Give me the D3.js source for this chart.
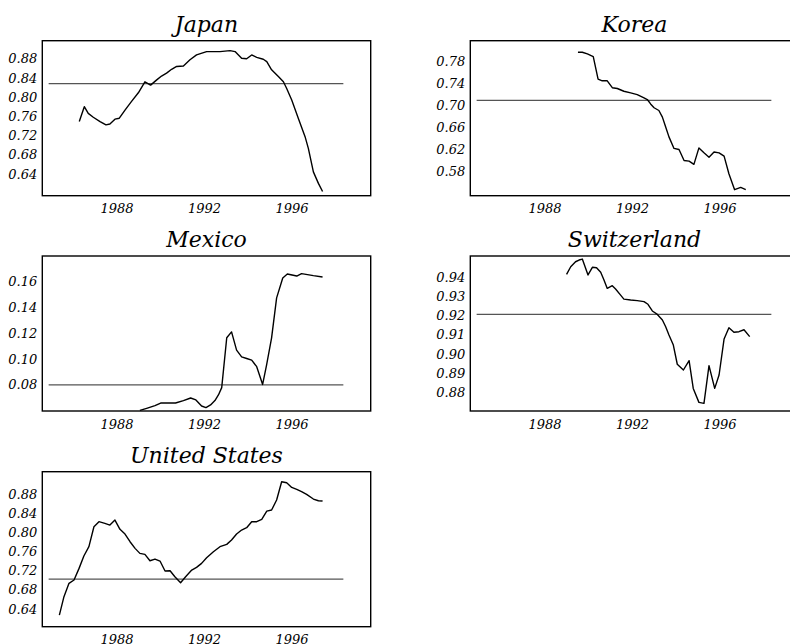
<!DOCTYPE html>
<html>
<head>
<meta charset="utf-8">
<script src="https://cdn.jsdelivr.net/npm/d3@7"></script>
<style>
  html, body { margin: 0; padding: 0; background: #fff; }
  svg { display: block; }
</style>
</head>
<body>
<svg id="chart" width="790" height="644"></svg>
<script>
// Quarterly series, [year, value]
const japanSeries = [
  [1986.30,0.748],[1986.53,0.779],[1986.71,0.765],[1986.94,0.757],[1987.25,0.748],[1987.52,0.741],
  [1987.70,0.743],[1987.93,0.753],[1988.13,0.755],[1988.39,0.772],[1988.69,0.790],[1989.00,0.808],
  [1989.30,0.831],[1989.56,0.824],[1989.84,0.835],[1990.06,0.843],[1990.29,0.849],[1990.52,0.857],
  [1990.75,0.863],[1991.06,0.864],[1991.36,0.877],[1991.66,0.887],[1992.12,0.894],[1992.73,0.894],
  [1993.19,0.896],[1993.42,0.894],[1993.72,0.880],[1993.95,0.879],[1994.18,0.887],[1994.41,0.882],
  [1994.71,0.878],[1994.87,0.873],[1995.09,0.856],[1995.40,0.842],[1995.63,0.831],[1995.78,0.817],
  [1996.01,0.793],[1996.31,0.755],[1996.62,0.7165],[1996.77,0.692],[1997.00,0.643],[1997.23,0.619],
  [1997.42,0.602]
];
const koreaSeries = [
  [1989.53,0.796],[1989.73,0.796],[1989.96,0.793],[1990.23,0.788],[1990.45,0.747],[1990.64,0.744],
  [1990.87,0.744],[1991.10,0.7315],[1991.33,0.730],[1991.63,0.725],[1991.94,0.722],[1992.24,0.719],
  [1992.55,0.713],[1992.70,0.710],[1992.85,0.702],[1993.01,0.695],[1993.23,0.690],[1993.39,0.678],
  [1993.54,0.660],[1993.69,0.642],[1993.92,0.621],[1994.15,0.619],[1994.38,0.599],[1994.61,0.598],
  [1994.83,0.592],[1995.06,0.622],[1995.29,0.613],[1995.52,0.605],[1995.75,0.6145],[1995.98,0.613],
  [1996.21,0.607],[1996.43,0.575],[1996.69,0.546],[1996.97,0.550],[1997.20,0.546]
];
const mexicoSeries = [
  [1989.07,0.0595],[1989.38,0.0611],[1989.76,0.0632],[1990.02,0.0652],[1990.29,0.0652],[1990.70,0.0652],
  [1991.06,0.0671],[1991.39,0.0691],[1991.63,0.0676],[1991.89,0.0629],[1992.09,0.0616],[1992.30,0.0637],
  [1992.50,0.0671],[1992.66,0.0715],[1992.81,0.0772],[1993.04,0.1160],[1993.26,0.1206],[1993.49,0.1064],
  [1993.72,0.1012],[1993.95,0.0999],[1994.18,0.0986],[1994.41,0.0935],[1994.68,0.0797],[1994.86,0.0948],
  [1995.09,0.1160],[1995.32,0.1471],[1995.60,0.1626],[1995.81,0.1657],[1996.24,0.1641],[1996.46,0.1660],
  [1997.00,0.1644],[1997.42,0.1634]
];
const switzerlandSeries = [
  [1989.01,0.9412],[1989.20,0.9452],[1989.42,0.9478],[1989.58,0.9487],[1989.73,0.9492],[1989.99,0.9409],
  [1990.19,0.9449],[1990.38,0.9447],[1990.57,0.9423],[1990.72,0.9383],[1990.87,0.9339],[1991.10,0.9353],
  [1991.25,0.9336],[1991.48,0.9304],[1991.63,0.9283],[1991.94,0.9278],[1992.24,0.9275],[1992.55,0.9270],
  [1992.73,0.9256],[1992.93,0.9221],[1993.16,0.9203],[1993.39,0.9174],[1993.54,0.9139],[1993.69,0.9096],
  [1993.89,0.9043],[1994.07,0.8943],[1994.35,0.8913],[1994.61,0.8962],[1994.80,0.8817],[1995.06,0.8744],
  [1995.29,0.8739],[1995.52,0.8936],[1995.78,0.8817],[1995.98,0.8887],[1996.21,0.9075],[1996.43,0.9134],
  [1996.66,0.9110],[1996.89,0.9113],[1997.12,0.9123],[1997.38,0.9087]
];
const unitedStatesSeries = [
  [1985.39,0.626],[1985.60,0.6644],[1985.83,0.6922],[1986.06,0.6992],[1986.29,0.7235],[1986.51,0.7493],
  [1986.74,0.7688],[1986.97,0.8105],[1987.20,0.8210],[1987.47,0.8175],[1987.70,0.8140],[1987.93,0.8244],
  [1988.16,0.8050],[1988.39,0.7952],[1988.62,0.7792],[1988.85,0.7653],[1989.07,0.7548],[1989.30,0.7528],
  [1989.53,0.7395],[1989.76,0.7430],[1989.99,0.7388],[1990.22,0.7180],[1990.45,0.7186],[1990.67,0.7061],
  [1990.93,0.6936],[1991.16,0.7061],[1991.44,0.7200],[1991.66,0.7256],[1991.89,0.7340],[1992.12,0.7458],
  [1992.43,0.7583],[1992.73,0.7688],[1993.04,0.7736],[1993.26,0.7827],[1993.49,0.7952],[1993.72,0.8036],
  [1993.95,0.8084],[1994.18,0.8210],[1994.41,0.8210],[1994.64,0.8258],[1994.87,0.8432],[1995.09,0.8453],
  [1995.32,0.8662],[1995.55,0.9045],[1995.78,0.9024],[1996.01,0.8926],[1996.24,0.8885],[1996.46,0.8836],
  [1996.69,0.8780],[1997.00,0.8683],[1997.23,0.8648],[1997.42,0.8641]
];

const countries = ["Japan", "Korea", "Mexico", "Switzerland", "United States"];
const seriesList = [japanSeries, koreaSeries, mexicoSeries, switzerlandSeries, unitedStatesSeries];
// Long-run average drawn as a horizontal reference line
const meanValues = [0.827, 0.7085, 0.0793, 0.9203, 0.7012];
const yLimits = [[0.5933, 0.9167], [0.535, 0.817], [0.059, 0.1797], [0.8699, 0.9508], [0.6017, 0.9254]];
const yTickValues = [
  [0.64, 0.68, 0.72, 0.76, 0.80, 0.84, 0.88],
  [0.58, 0.62, 0.66, 0.70, 0.74, 0.78],
  [0.08, 0.10, 0.12, 0.14, 0.16],
  [0.88, 0.89, 0.90, 0.91, 0.92, 0.93, 0.94],
  [0.64, 0.68, 0.72, 0.76, 0.80, 0.84, 0.88]
];
const xTickValues = [1988, 1992, 1996];
const xLimits = [1984.61, 1999.62];
const meanSpan = [1984.9, 1998.37];

// Layout
const panelW = 328.4, panelH = 155;
const colX = [42.3, 470.3];
const rowY = [40.7, 256, 471.7];
const labelFont = '"DejaVu Serif", serif';

const svg = d3.select("#chart");

countries.forEach((name, i) => {
  const left = colX[i % 2], top = rowY[Math.floor(i / 2)];
  const g = svg.append("g").attr("transform", `translate(${left},${top})`);

  const x = d3.scaleLinear().domain(xLimits).range([0, panelW]);
  const y = d3.scaleLinear().domain(yLimits[i]).range([panelH, 0]);

  const clipId = "clip" + i;
  g.append("clipPath").attr("id", clipId)
    .append("rect").attr("width", panelW).attr("height", panelH);

  // Average line
  g.append("line")
    .attr("x1", x(meanSpan[0])).attr("x2", x(meanSpan[1]))
    .attr("y1", y(meanValues[i])).attr("y2", y(meanValues[i]))
    .attr("stroke", "#555").attr("stroke-width", 1.2);

  // Series line
  const line = d3.line().x(d => x(d[0])).y(d => y(d[1]));
  g.append("path")
    .datum(seriesList[i])
    .attr("clip-path", `url(#${clipId})`)
    .attr("d", line)
    .attr("fill", "none").attr("stroke", "#000").attr("stroke-width", 1.4)
    .attr("stroke-linejoin", "round");

  // Frame
  g.append("rect").attr("width", panelW).attr("height", panelH)
    .attr("fill", "none").attr("stroke", "#000").attr("stroke-width", 1.4);

  // Axes: labels only, no tick marks or domain lines
  const xAxis = d3.axisBottom(x).tickValues(xTickValues).tickFormat(d3.format("d")).tickSize(0).tickPadding(0);
  const gx = g.append("g").attr("transform", `translate(0,${panelH})`).call(xAxis);
  gx.select(".domain").remove();
  gx.selectAll("text").attr("dy", null).attr("y", 17.5);

  const yAxis = d3.axisLeft(y).tickValues(yTickValues[i]).tickFormat(d3.format(".2f")).tickSize(0).tickPadding(5);
  const gy = g.append("g").call(yAxis);
  gy.select(".domain").remove();
  gy.selectAll("text").attr("dy", "0.36em");

  [gx, gy].forEach(a => {
    a.attr("font-family", null).attr("font-size", null);
    a.selectAll("text")
      .style("font-family", labelFont).style("font-style", "italic")
      .style("font-size", "13px").style("fill", "#000");
  });
  g.selectAll(".tick line").remove();

  // Title
  g.append("text")
    .attr("x", panelW / 2).attr("y", -9)
    .attr("text-anchor", "middle")
    .style("font-family", labelFont).style("font-style", "italic")
    .style("font-size", "22px").style("fill", "#000")
    .text(name);
});
</script>
</body>
</html>
